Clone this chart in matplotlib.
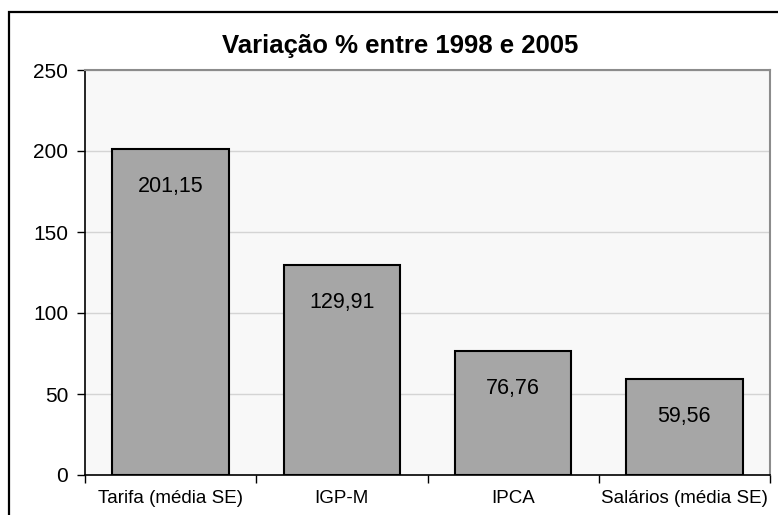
import matplotlib
matplotlib.use("Agg")
import matplotlib.pyplot as plt
from matplotlib.patches import Rectangle

plt.rcParams['font.family'] = ['Liberation Sans', 'DejaVu Sans']

categories = ["Tarifa (média SE)", "IGP-M", "IPCA", "Salários (média SE)"]
values = [201.15, 129.91, 76.76, 59.56]
labels = ["201,15", "129,91", "76,76", "59,56"]
yticks = [0, 50, 100, 150, 200, 250]

fig = plt.figure(figsize=(7.78, 5.15), dpi=100)
ax = fig.add_axes([85 / 778, 40 / 515, 685 / 778, 405 / 515])
ax.set_facecolor("#F8F8F8")

x = list(range(len(categories)))
bars = ax.bar(x, values, width=0.68, color="#A6A6A6", edgecolor="black", linewidth=1.5, zorder=3)

for xi, v, lab in zip(x, values, labels):
    ax.annotate(lab, (xi, v), xytext=(0, -27), textcoords="offset points",
                ha="center", va="center", fontsize=15.5, zorder=4)

ax.set_xlim(-0.5, len(categories) - 0.5)
ax.set_ylim(0, 250)
ax.set_yticks(yticks)
ax.set_yticklabels([str(t) for t in yticks], fontsize=15)
ax.grid(axis="y", color="#D4D4D4", linewidth=1, zorder=0)

ax.set_xticks(x)
ax.set_xticklabels(categories, fontsize=13.5)
ax.tick_params(axis="x", which="major", length=0, pad=11)
ax.set_xticks([i - 0.5 for i in range(len(categories) + 1)], minor=True)
ax.tick_params(axis="x", which="minor", length=6, width=1, color="black")
ax.tick_params(axis="y", length=6, width=1, color="black", pad=6)

ax.spines["left"].set_color("black")
ax.spines["bottom"].set_color("black")
ax.spines["left"].set_linewidth(1.2)
ax.spines["bottom"].set_linewidth(1.2)
ax.spines["top"].set_color("#8C8C8C")
ax.spines["right"].set_color("#8C8C8C")
ax.spines["top"].set_linewidth(1.5)
ax.spines["right"].set_linewidth(1.5)

fig.text(400 / 778, 1 - 46 / 515, "Variação % entre 1998 e 2005", ha="center", va="center",
         fontsize=18.5, fontweight="bold")

# outer chart frame (right and bottom edges fall outside the picture)
fig.patches.append(Rectangle((9 / 778, -0.1), 1.0, 1 - 12 / 515 + 0.1, transform=fig.transFigure,
                             fill=False, edgecolor="black", linewidth=1.6))

fig.savefig("out.png", dpi=100)
